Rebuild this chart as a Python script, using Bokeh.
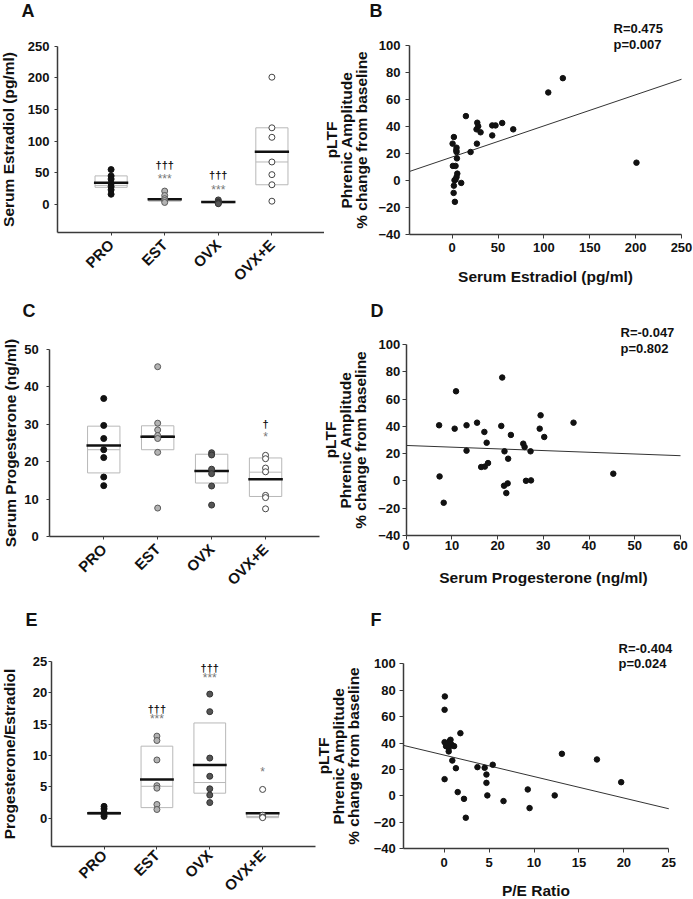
from math import pi
from bokeh.plotting import figure
from bokeh.layouts import column, row
from bokeh.models import Range1d, FixedTicker, Label
from bokeh.embed import file_html
from bokeh.resources import INLINE
from bokeh.core.properties import value

FONT = "Liberation Sans"

# ---------------- data ----------------
cats = ["PRO", "EST", "OVX", "OVX+E"]
cat_x = [1, 2, 3, 4]

# Panel A: serum estradiol (pg/ml)
a_pro = [55, 45, 40, 33, 28, 23, 16]
a_est = [21, 14, 9, 6, 3]
a_ovx = [7, 4, 3.5, 2, 1]
a_ovxe = [201, 121, 106, 67, 47, 31, 5]
a_box_lo = [27, 5, 2.5, 31]
a_box_hi = [45, 9, 4.5, 121]
a_median = [30, 7, 3.5, 67]
a_mean = [34, 8, 3.6, 83]
a_dag_x = [2, 3]
a_dag_y = [61.6, 45.8]
a_dag_t = ["†††", "†††"]
a_star_x = [2, 3]
a_star_y = [39.5, 23.2]
a_star_t = ["***", "***"]

# Panel C: serum progesterone (ng/ml)
c_pro = [36.9, 29.7, 26.2, 23.2, 21.1, 15.9, 13.6]
c_est = [45.4, 30.3, 28.5, 27.0, 26.2, 22.5, 7.6]
c_ovx = [22.4, 21.8, 18.0, 16.8, 13.5, 8.4]
c_ovxe = [21.7, 20.8, 18.3, 17.3, 11.0, 10.4, 7.4]
c_box_lo = [17.0, 23.2, 14.3, 10.7]
c_box_hi = [29.5, 29.6, 22.0, 21.0]
c_median = [23.2, 27.0, 17.4, 17.2]
c_mean = [24.3, 26.7, 17.5, 15.3]
c_dag_x = [4]
c_dag_y = [30.0]
c_dag_t = ["†"]
c_star_x = [4]
c_star_y = [26.5]
c_star_t = ["*"]

# Panel E: progesterone / estradiol
e_pro = [1.9, 1.5, 0.9, 0.6, 0.3]
e_est = [13.1, 12.4, 9.3, 5.2, 4.8, 2.2, 1.4]
e_ovx = [19.8, 17.0, 9.6, 6.7, 4.7, 3.7, 2.5]
e_ovxe = [4.6, 0.5, 0.2, 0.1]
e_box_lo = [0.6, 1.7, 4.0, 0.1]
e_box_hi = [1.0, 11.5, 15.2, 0.8]
e_median = [0.8, 5.1, 5.7, 0.3]
e_mean = [0.8, 6.2, 8.5, 0.8]
e_dag_x = [2, 3]
e_dag_y = [17.5, 23.9]
e_dag_t = ["†††", "†††"]
e_star_x = [2, 3, 4]
e_star_y = [15.9, 22.3, 7.4]
e_star_t = ["***", "***", "*"]

# Panel B: estradiol vs pLTF
b_x = [0.4, 1.8, 0.7, 3.6, 1.5, 2.9, 1.8, 2.5, 4.7, 4.4, 5.1, 5.5, 4.7, 3.6, 9.8, 4.7,
       14.9, 20.0, 26.5, 27.3, 26.9, 28.3, 30.9, 43.6, 43.6, 47.2, 54.5, 66.5, 104.7, 120.6, 200.9]
b_y = [27.3, 32.2, 10.8, 10.8, -9.2, -15.8, -3.8, 0.2, 24.3, 22.4, 16.4, 5.1, 2.6, 0.7, -1.8, 21.1,
       47.7, 21.1, 37.9, 42.8, 27.3, 40.1, 35.7, 33.4, 40.8, 40.8, 42.6, 37.9, 65.2, 75.8, 13.2]
b_fit_x = [-46.6, 250]
b_fit_y = [6.7, 75.0]

# Panel D: progesterone vs pLTF
d_x = [7.2, 7.3, 8.2, 10.9, 10.6, 13.2, 13.2, 15.5, 16.4, 17.1, 17.6, 17.2, 17.9, 21.0, 20.8, 21.5,
       21.4, 22.2, 21.9, 22.3, 22.9, 25.6, 25.9, 26.2, 27.3, 27.2, 29.2, 29.4, 30.2, 36.6, 45.3]
d_y = [40.8, 3.3, -16.0, 65.7, 38.3, 40.8, 22.2, 42.7, 10.2, 35.9, 28.0, 10.5, 13.1, 75.8, 40.3, 21.7,
       -3.5, -1.8, -8.9, 16.3, 33.7, 27.3, 24.9, 0.1, 0.4, 21.7, 38.3, 48.1, 32.2, 42.7, 5.3]
d_fit_x = [0, 60]
d_fit_y = [26.0, 18.5]

# Panel F: P/E ratio vs pLTF
f_x = [0.07, 0.04, 0.04, 0.2, 0.4, 0.5, 0.6, 0.7, 0.8, 1.1, 0.5, 0.9, 0.04, 1.3, 1.5, 1.8,
       2.2, 2.4, 3.7, 4.5, 4.7, 4.7, 4.8, 5.4, 6.6, 9.3, 9.5, 12.3, 13.1, 17.0, 19.7]
f_y = [75.3, 65.2, 40.7, 37.7, 39.5, 36.2, 41.5, 42.5, 39.0, 37.7, 33.7, 26.8, 12.7, 21.0, 2.9, 47.5,
       -2.2, -16.5, 21.8, 21.3, 16.2, 9.9, 0.4, 23.6, -3.9, 4.9, -9.2, 0.4, 31.9, 27.6, 10.4]
f_fit_x = [-4.5, 25]
f_fit_y = [38.2, -9.7]

pltf_label = "pLTF\nPhrenic Amplitude\n% change from baseline"

# ---------------- styles ----------------
group_style = [
    dict(fill_color="#111111", line_color="#111111"),
    dict(fill_color="#b3b3b3", line_color="#5a5a5a"),
    dict(fill_color="#555555", line_color="#333333"),
    dict(fill_color="#ffffff", line_color="#444444"),
]
AX = "#3a3a3a"


def make_fig(W, H, box, xr, yr):
    """Figure whose frame fills the canvas; axes are pinned at the data box edges."""
    L, R, T, B = box
    sx = (R - L) / (xr[1] - xr[0])
    sy = (B - T) / (yr[1] - yr[0])
    x_ext = (xr[0] - L / sx, xr[1] + (W - R) / sx)
    y_ext = (yr[0] - (H - B) / sy, yr[1] + T / sy)
    p = figure(width=W, height=H, x_range=Range1d(*x_ext), y_range=Range1d(*y_ext),
               output_backend="svg", toolbar_location=None, min_border=0)
    p.outline_line_color = None
    p.grid.visible = False
    p.background_fill_color = "white"
    p.border_fill_color = "white"
    p.xaxis.fixed_location = yr[0]
    p.xaxis.bounds = xr
    p.yaxis.fixed_location = xr[0]
    p.yaxis.bounds = yr
    for ax in (p.xaxis[0], p.yaxis[0]):
        ax.axis_line_color = AX
        ax.axis_line_width = 1.5
        ax.major_tick_line_color = AX
        ax.major_tick_line_width = 1
        ax.major_tick_in = 0
        ax.major_tick_out = 4
        ax.minor_tick_line_color = None
        ax.major_label_text_font = FONT
        ax.major_label_text_font_style = "bold"
        ax.major_label_text_font_size = "13px"
        ax.major_label_text_color = "#111111"
        ax.axis_label_text_font = FONT
        ax.axis_label_text_font_style = "bold"
        ax.axis_label_text_font_size = "15.5px"
        ax.axis_label_text_color = "#111111"
        ax.axis_label_text_line_height = 0.9
    return p


def letter(p, text, x, y_top):
    p.add_layout(Label(x=x, y=p.height - y_top, x_units="screen", y_units="screen", text=text,
                       text_font=FONT, text_font_style="bold", text_font_size="18px",
                       text_baseline="top", text_align="left", text_color="#111111"))


def stat(p, text, x, y_mid):
    p.add_layout(Label(x=x, y=p.height - y_mid, x_units="screen", y_units="screen", text=text,
                       text_font=FONT, text_font_style="bold", text_font_size="13px",
                       text_baseline="middle", text_align="left", text_color="#111111"))


def group_panel(W, H, box, yr, yticks, ylabel, groups, lo, hi, med, mean, dag, star,
                ytick_so, ylab_so, xtick_so):
    p = make_fig(W, H, box, (0, 5), yr)
    p.xaxis.ticker = FixedTicker(ticks=cat_x)
    p.xaxis.major_label_overrides = {c: n for c, n in zip(cat_x, cats)}
    p.xaxis.major_label_orientation = pi / 4
    p.xaxis.major_label_text_font_size = "15px"
    p.xaxis.major_tick_out = 3
    p.xaxis.major_label_standoff = xtick_so
    p.yaxis.ticker = FixedTicker(ticks=yticks)
    p.yaxis.major_tick_out = 3
    p.yaxis.major_label_standoff = ytick_so
    p.yaxis.axis_label = ylabel
    p.yaxis.axis_label_standoff = ylab_so
    bw, mw = 0.3, 0.32
    p.quad(left=[c - bw for c in cat_x], right=[c + bw for c in cat_x], bottom=lo, top=hi,
           fill_color=None, line_color="#b8b8b8", line_width=1)
    p.segment(x0=[c - bw for c in cat_x], x1=[c + bw for c in cat_x], y0=med, y1=med,
              line_color="#b8b8b8", line_width=1)
    p.segment(x0=[c - mw for c in cat_x], x1=[c + mw for c in cat_x], y0=mean, y1=mean,
              line_color="#111111", line_width=2.5)
    for c, vals, st in zip(cat_x, groups, group_style):
        p.scatter(x=[c] * len(vals), y=vals, size=6, line_width=1, **st)
    dx, dy, dt = dag
    p.text(x=dx, y=dy, text=dt, text_font=value(FONT), text_font_style="bold",
           text_font_size="11px", text_align="center", text_baseline="middle",
           text_color="#111111")
    sx_, sy_, st_ = star
    p.text(x=sx_, y=sy_, text=st_, text_font=value(FONT), text_font_style="normal",
           text_font_size="12px", text_align="center", text_baseline="middle",
           text_color="#777777")
    return p


def scatter_panel(W, H, box, xr, xticks, xlabel, xs, ys, fx, fy,
                  ytick_so, ylab_so, xtick_so, xlab_so):
    p = make_fig(W, H, box, xr, (-40, 100))
    p.xaxis.ticker = FixedTicker(ticks=xticks)
    p.yaxis.ticker = FixedTicker(ticks=[-40, -20, 0, 20, 40, 60, 80, 100])
    p.xaxis.major_label_standoff = xtick_so
    p.yaxis.major_label_standoff = ytick_so
    p.xaxis.axis_label = xlabel
    p.xaxis.axis_label_standoff = xlab_so
    p.yaxis.axis_label = pltf_label
    p.yaxis.axis_label_standoff = ylab_so
    p.line(fx, fy, line_color="#333333", line_width=1)
    p.scatter(xs, ys, size=5.5, fill_color="#111111", line_color="#111111")
    return p


# ---------------- panels (box = left, right, top, bottom of the axes, canvas px) ----------------
pA = group_panel(324, 300, (57, 325, 45.7, 231.7), (-44, 250), [0, 50, 100, 150, 200, 250],
                 "Serum Estradiol (pg/ml)", [a_pro, a_est, a_ovx, a_ovxe],
                 a_box_lo, a_box_hi, a_median, a_mean,
                 (a_dag_x, a_dag_y, a_dag_t), (a_star_x, a_star_y, a_star_t), 5, 8, 7)
letter(pA, "A", 21, 0)

pB = scatter_panel(369, 300, (85, 357, 45, 234), (-46.6, 250), [0, 50, 100, 150, 200, 250],
                   "Serum Estradiol (pg/ml)", b_x, b_y, b_fit_x, b_fit_y, 5, 5, 4, 13)
letter(pB, "B", 45, 0)
stat(pB, "R=0.475", 289, 28)
stat(pB, "p=0.007", 289, 44)

pC = group_panel(320, 300, (49.3, 319, 49, 236), (0, 50), [0, 10, 20, 30, 40, 50],
                 "Serum Progesterone (ng/ml)", [c_pro, c_est, c_ovx, c_ovxe],
                 c_box_lo, c_box_hi, c_median, c_mean,
                 (c_dag_x, c_dag_y, c_dag_t), (c_star_x, c_star_y, c_star_t), 8, 2, 7)
letter(pC, "C", 22, 0)

pD = scatter_panel(373, 300, (85.7, 360, 44, 235), (0, 60), [0, 10, 20, 30, 40, 50, 60],
                   "Serum Progesterone (ng/ml)", d_x, d_y, d_fit_x, d_fit_y, 2, 6, 1, 16)
letter(pD, "D", 50, 0)
stat(pD, "R=-0.047", 300, 32)
stat(pD, "p=0.802", 300, 48)

pE = group_panel(316, 299, (50.7, 315, 61, 246), (-4.5, 25), [0, 5, 10, 15, 20, 25],
                 "Progesterone/Estradiol", [e_pro, e_est, e_ovx, e_ovxe],
                 e_box_lo, e_box_hi, e_median, e_mean,
                 (e_dag_x, e_dag_y, e_dag_t), (e_star_x, e_star_y, e_star_t), 1, 12, 3)
letter(pE, "E", 25, 9)

pF = scatter_panel(377, 299, (87.3, 352.3, 63.3, 248.3), (-4.5, 25), [0, 5, 10, 15, 20, 25],
                   "P/E Ratio", f_x, f_y, f_fit_x, f_fit_y, 4, 8, 5, 12)
letter(pF, "F", 54, 9)
stat(pF, "R=-0.404", 302, 48)
stat(pF, "p=0.024", 302, 63)

layout = column(row(pA, pB), row(pC, pD), row(pE, pF))

open("out.html", "w").write(file_html(layout, INLINE))
